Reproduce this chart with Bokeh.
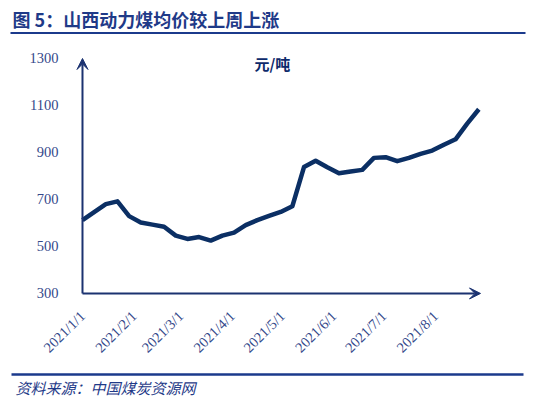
import pandas as pd
from math import pi
from bokeh.plotting import figure
from bokeh.layouts import column
from bokeh.models import (ColumnDataSource, Range1d, FixedTicker, DatetimeTickFormatter,
                          Arrow, VeeHead, Label)
from bokeh.core.properties import value
from bokeh.embed import file_html
from bokeh.resources import INLINE

# ---- data ----
start_date = "2021-01-01"
end_date = "2021-08-28"
dates = pd.date_range(start_date, periods=35, freq="7D")
prices = [612, 646, 680, 692, 629, 602, 593, 584, 546, 532, 540, 525, 546, 559,
          591, 612, 630, 647, 671, 838, 865, 837, 812, 819, 826, 877, 880, 863,
          877, 894, 908, 933, 956, 1023, 1084]
month_ticks = ["2021-01-01", "2021-02-01", "2021-03-01", "2021-04-01",
               "2021-05-01", "2021-06-01", "2021-07-01", "2021-08-01"]
y_ticks = [300, 500, 700, 900, 1100, 1300]
title_text = "图 5：山西动力煤均价较上周上涨"
unit_text = "元/吨"
source_text = "资料来源：中国煤炭资源网"

NAVY = "#0B2F64"
AXIS = "#1B3270"
TXT = "#1F3A88"
RULE = "#1B3A8C"
TICK = "#34488A"

W = 538
H_TOP, H_MAIN, H_BOT = 38, 330, 30


def deco_figure(h):
    f = figure(width=W, height=h, output_backend="svg", toolbar_location=None,
               x_range=Range1d(0, W), y_range=Range1d(h, 0),
               x_axis_location=None, y_axis_location=None,
               min_border=0, min_border_left=0, min_border_right=0,
               min_border_top=0, min_border_bottom=0, frame_align=False)
    f.grid.visible = False
    f.outline_line_color = None
    return f


# ---- title strip ----
top = deco_figure(H_TOP)
top.text(x=[12], y=[18], text=[title_text], text_baseline="middle",
         text_font=value("Noto Sans CJK SC"), text_font_style="bold",
         text_font_size="18px", text_color=TXT)
top.segment(x0=[10], y0=[32.5], x1=[525], y1=[32.5], line_color=RULE, line_width=2)

# ---- main chart ----
x0 = pd.Timestamp(start_date)
x1 = pd.Timestamp(end_date)
pad_l = pd.Timedelta(days=6)
pad_r = pd.Timedelta(days=6)

p = figure(width=W, height=H_MAIN, output_backend="svg", toolbar_location=None,
           x_axis_type="datetime",
           x_range=Range1d(x0 - pad_l, x1 + pad_r), y_range=Range1d(270, 1334),
           min_border_left=72, min_border_right=48, min_border_top=12,
           min_border_bottom=68, frame_align=False)
p.outline_line_color = None
p.grid.grid_line_color = None

src = ColumnDataSource(dict(x=dates, y=prices))
p.line("x", "y", source=src, line_color=NAVY, line_width=4.5, line_join="round")

for ax in (p.xaxis[0], p.yaxis[0]):
    ax.axis_line_color = None
    ax.major_tick_line_color = None
    ax.minor_tick_line_color = None
    ax.major_label_text_font = "Liberation Serif"
    ax.major_label_text_color = TICK

p.yaxis.ticker = FixedTicker(ticks=y_ticks)
p.yaxis.major_label_text_font_size = "14.5px"
p.yaxis.major_label_standoff = 8

tick_ms = [pd.Timestamp(d).value // 10**6 for d in month_ticks]
p.xaxis.ticker = FixedTicker(ticks=tick_ms)
fmt = "%Y/%-m/%-d"
p.xaxis.formatter = DatetimeTickFormatter(years=fmt, months=fmt, days=fmt, hours=fmt,
                                          minutes=fmt, seconds=fmt, milliseconds=fmt,
                                          microseconds=fmt)
p.xaxis.major_label_orientation = pi / 4
p.xaxis.major_label_text_font_size = "14.5px"
p.xaxis.major_label_standoff = 7

p.add_layout(Arrow(x_start=x0, y_start=y_ticks[0], x_end=x1, y_end=y_ticks[0],
                   line_color=AXIS, line_width=2,
                   end=VeeHead(size=11, fill_color=AXIS, line_color=AXIS)))
p.add_layout(Arrow(x_start=x0, y_start=y_ticks[0], x_end=x0, y_end=y_ticks[-1],
                   line_color=AXIS, line_width=2,
                   end=VeeHead(size=11, fill_color=AXIS, line_color=AXIS)))

p.add_layout(Label(x=pd.Timestamp("2021-04-25"), y=1279, text=unit_text,
                   text_align="center", text_baseline="middle",
                   text_font="Noto Sans CJK SC", text_font_style="bold",
                   text_font_size="15px", text_color="#0D2A6B"))

# ---- source strip ----
bot = deco_figure(H_BOT)
bot.segment(x0=[11], y0=[6], x1=[523], y1=[6], line_color=RULE, line_width=2.5)
bot.text(x=[15], y=[19], text=[source_text], text_baseline="middle",
         text_font=value("Noto Sans CJK SC"), text_font_style="italic",
         text_font_size="15px", text_color=TXT)

layout = column(top, p, bot, spacing=0)
open("out.html", "w").write(file_html(layout, INLINE))
